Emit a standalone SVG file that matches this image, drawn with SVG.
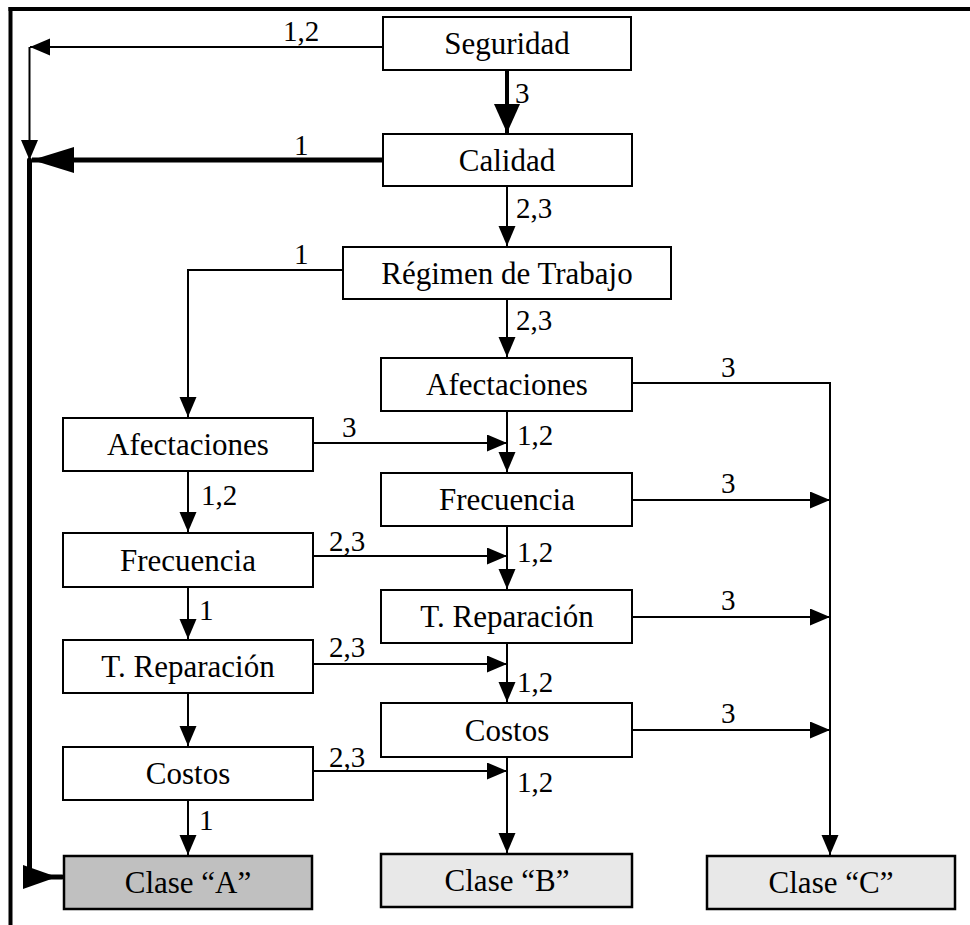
<svg xmlns="http://www.w3.org/2000/svg" width="970" height="925" viewBox="0 0 970 925">
  <style>
    .box { fill: #ffffff; stroke: #000000; stroke-width: 2; }
    .boxA { fill: #c0c0c0; stroke: #000000; stroke-width: 2.5; }
    .boxBC { fill: #e8e8e8; stroke: #000000; stroke-width: 2.5; }
    .label { font-family: "Liberation Serif", "Times New Roman", serif; font-size: 31px; fill: #000000; text-anchor: middle; }
    .num { font-family: "Liberation Serif", "Times New Roman", serif; font-size: 29px; fill: #000000; }
    .ln { fill: none; stroke: #000000; stroke-width: 2; }
    .thick { fill: none; stroke: #000000; stroke-width: 5; }
  </style>
  <defs>
    <marker id="arr" markerUnits="userSpaceOnUse" markerWidth="21" markerHeight="18" refX="20" refY="8.5" orient="auto">
      <path d="M0,0 L20,8.5 L0,17 z" fill="#000000"/>
    </marker>
    <marker id="arrBig" markerUnits="userSpaceOnUse" markerWidth="43" markerHeight="27" refX="42" refY="13" orient="auto">
      <path d="M0,0 L42,13 L0,26 z" fill="#000000"/>
    </marker>
    <marker id="arrMid" markerUnits="userSpaceOnUse" markerWidth="30" markerHeight="27" refX="29" refY="13" orient="auto">
      <path d="M0,0 L29,13 L0,26 z" fill="#000000"/>
    </marker>
  </defs>

  <rect x="0" y="0" width="970" height="925" fill="#ffffff"/>

  <!-- frame -->
  <g id="frame">
    <line x1="8.5" y1="9" x2="970" y2="9" stroke="#000" stroke-width="4"/>
    <line x1="10.5" y1="7" x2="10.5" y2="925" stroke="#000" stroke-width="4"/>
  </g>

  <!-- connectors -->
  <g id="connectors">
    <!-- Seguridad to left rail -->
    <polyline class="ln" points="383,47 30,47" marker-end="url(#arr)"/>
    <polyline class="ln" points="29.5,47 29.5,160" marker-end="url(#arr)"/>
    <!-- Calidad to left rail (thick) -->
    <line class="thick" x1="383" y1="160" x2="32" y2="160" marker-end="url(#arrBig)"/>
    <!-- thick rail down to Clase A -->
    <polyline class="thick" points="29.5,160 29.5,877 62,877" stroke-linecap="round"/>
    <polygon points="23,865 57,877 23,889" fill="#000"/>
    <!-- main vertical chain, right column -->
    <line x1="507" y1="70" x2="507" y2="133" stroke="#000" stroke-width="4" marker-end="url(#arrMid)"/>
    <line class="ln" x1="507" y1="186" x2="507" y2="246" marker-end="url(#arr)"/>
    <line class="ln" x1="507" y1="299" x2="507" y2="357" marker-end="url(#arr)"/>
    <line class="ln" x1="507" y1="411" x2="507" y2="472" marker-end="url(#arr)"/>
    <line class="ln" x1="507" y1="526" x2="507" y2="589" marker-end="url(#arr)"/>
    <line class="ln" x1="507" y1="643" x2="507" y2="702" marker-end="url(#arr)"/>
    <line class="ln" x1="507" y1="757" x2="507" y2="853" marker-end="url(#arr)"/>
    <!-- Régimen to left column -->
    <polyline class="ln" points="343,270 188,270 188,417" marker-end="url(#arr)"/>
    <!-- left column chain -->
    <line class="ln" x1="188" y1="471" x2="188" y2="532" marker-end="url(#arr)"/>
    <line class="ln" x1="188" y1="587" x2="188" y2="639" marker-end="url(#arr)"/>
    <line class="ln" x1="188" y1="693" x2="188" y2="746" marker-end="url(#arr)"/>
    <line class="ln" x1="188" y1="800" x2="188" y2="855" marker-end="url(#arr)"/>
    <!-- left column to right column -->
    <line class="ln" x1="313" y1="443" x2="507" y2="443" marker-end="url(#arr)"/>
    <line class="ln" x1="313" y1="556" x2="507" y2="556" marker-end="url(#arr)"/>
    <line class="ln" x1="313" y1="664" x2="507" y2="664" marker-end="url(#arr)"/>
    <line class="ln" x1="313" y1="771" x2="507" y2="771" marker-end="url(#arr)"/>
    <!-- right column to Clase C rail -->
    <polyline class="ln" points="632,383 830,383 830,855" marker-end="url(#arr)"/>
    <line class="ln" x1="632" y1="500" x2="830" y2="500" marker-end="url(#arr)"/>
    <line class="ln" x1="632" y1="617" x2="830" y2="617" marker-end="url(#arr)"/>
    <line class="ln" x1="632" y1="730" x2="830" y2="730" marker-end="url(#arr)"/>

    <!-- connector labels -->
    <text class="num" x="283" y="41">1,2</text>
    <text class="num" x="515" y="103">3</text>
    <text class="num" x="294" y="155">1</text>
    <text class="num" x="516" y="218">2,3</text>
    <text class="num" x="294" y="264">1</text>
    <text class="num" x="516" y="330">2,3</text>
    <text class="num" x="721" y="377">3</text>
    <text class="num" x="342" y="437">3</text>
    <text class="num" x="517" y="445">1,2</text>
    <text class="num" x="201" y="505">1,2</text>
    <text class="num" x="721" y="493">3</text>
    <text class="num" x="329" y="551">2,3</text>
    <text class="num" x="517" y="562">1,2</text>
    <text class="num" x="199" y="620">1</text>
    <text class="num" x="721" y="610">3</text>
    <text class="num" x="329" y="657">2,3</text>
    <text class="num" x="517" y="692">1,2</text>
    <text class="num" x="721" y="723">3</text>
    <text class="num" x="329" y="767">2,3</text>
    <text class="num" x="517" y="792">1,2</text>
    <text class="num" x="199" y="830">1</text>
  </g>

  <!-- nodes -->
  <g id="seguridad">
    <rect class="box" x="383" y="17" width="248" height="53"/>
    <text class="label" x="507" y="54">Seguridad</text>
  </g>
  <g id="calidad">
    <rect class="box" x="383" y="134" width="249" height="52" stroke-width="3"/>
    <text class="label" x="507" y="171">Calidad</text>
  </g>
  <g id="regimen">
    <rect class="box" x="343" y="247" width="328" height="52"/>
    <text class="label" x="507" y="284">Régimen de Trabajo</text>
  </g>
  <g id="afectaciones-r">
    <rect class="box" x="381" y="358" width="251" height="53"/>
    <text class="label" x="507" y="395">Afectaciones</text>
  </g>
  <g id="frecuencia-r">
    <rect class="box" x="381" y="473" width="251" height="53"/>
    <text class="label" x="507" y="510">Frecuencia</text>
  </g>
  <g id="reparacion-r">
    <rect class="box" x="381" y="590" width="251" height="53"/>
    <text class="label" x="507" y="627">T. Reparación</text>
  </g>
  <g id="costos-r">
    <rect class="box" x="381" y="703" width="251" height="54"/>
    <text class="label" x="507" y="741">Costos</text>
  </g>
  <g id="afectaciones-l">
    <rect class="box" x="63" y="418" width="250" height="53"/>
    <text class="label" x="188" y="455">Afectaciones</text>
  </g>
  <g id="frecuencia-l">
    <rect class="box" x="63" y="533" width="250" height="54"/>
    <text class="label" x="188" y="571">Frecuencia</text>
  </g>
  <g id="reparacion-l">
    <rect class="box" x="63" y="640" width="250" height="53"/>
    <text class="label" x="188" y="677">T. Reparación</text>
  </g>
  <g id="costos-l">
    <rect class="box" x="63" y="747" width="250" height="53"/>
    <text class="label" x="188" y="784">Costos</text>
  </g>
  <g id="clase-a">
    <rect class="boxA" x="64" y="856" width="248" height="53"/>
    <text class="label" x="188" y="893">Clase “A”</text>
  </g>
  <g id="clase-b">
    <rect class="boxBC" x="381" y="854" width="251" height="53"/>
    <text class="label" x="507" y="891">Clase “B”</text>
  </g>
  <g id="clase-c">
    <rect class="boxBC" x="707" y="856" width="248" height="53"/>
    <text class="label" x="831" y="893">Clase “C”</text>
  </g>
</svg>
